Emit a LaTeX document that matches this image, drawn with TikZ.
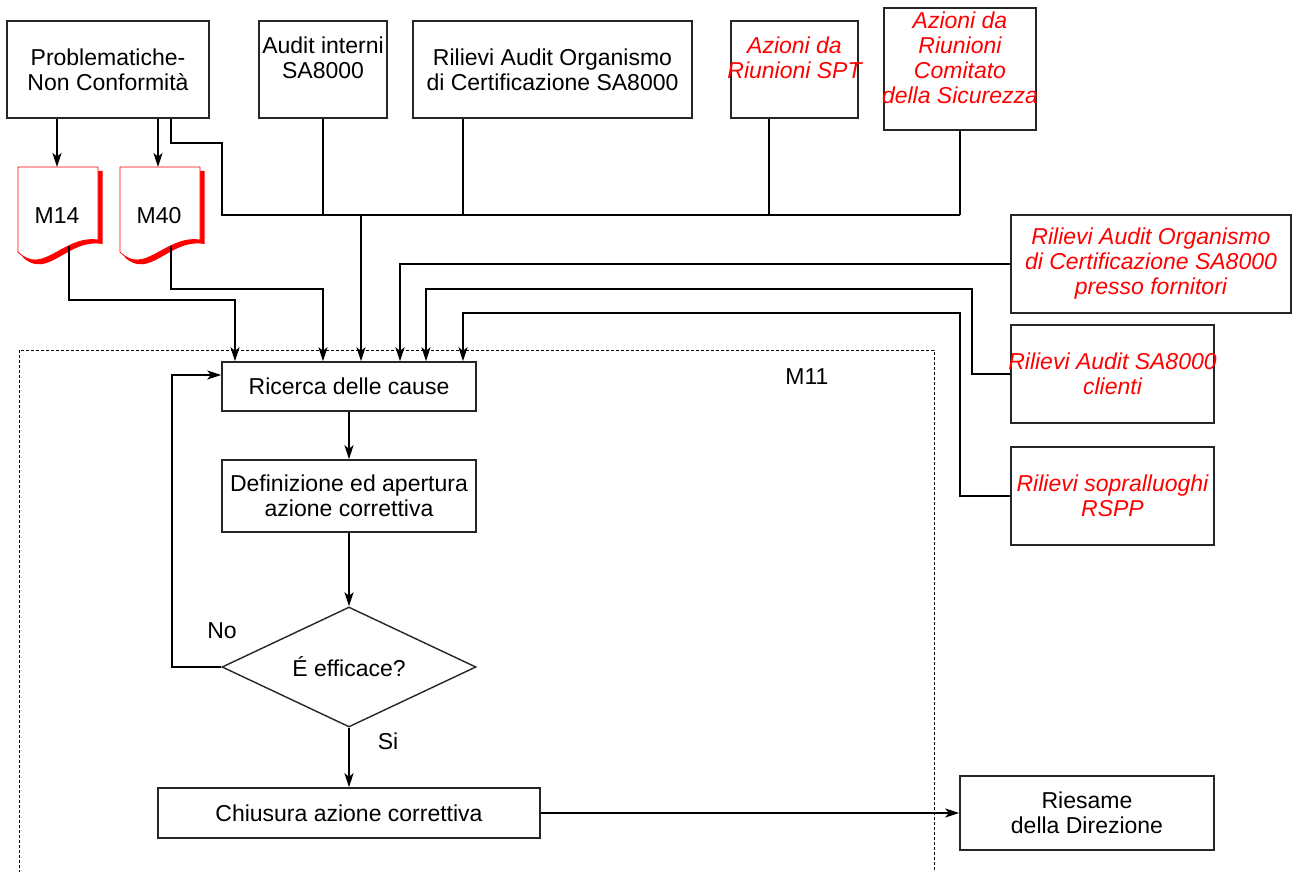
\documentclass[tikz,border=0pt]{standalone}
\usepackage{fontspec}
\setmainfont{Liberation Sans}
\usetikzlibrary{arrows.meta,shapes.geometric}
\definecolor{rd}{RGB}{255,0,0}
\begin{document}
\begin{tikzpicture}[x=1pt,y=-1pt,
  font=\fontsize{23}{25}\selectfont,
  ln/.style={line width=1.4pt,black},
  arr/.style={ln,-{Stealth[length=14pt,width=9pt,inset=3.5pt]}},
  box/.style={draw=black!85,line width=1.5pt,fill=white,inner sep=0pt,rectangle},
  txt/.style={align=center,inner sep=0pt},
  rtxt/.style={txt,text=rd,font=\fontsize{23}{25}\selectfont\itshape},
  docshadow/.style={fill=rd,draw=none},
  docmain/.style={fill=white,draw=rd,line width=0.8pt},
]
\useasboundingbox (0,0) rectangle (1299,872);
\clip (0,0) rectangle (1299,872);

% dashed M11 frame
\draw[dashed,line width=0.9pt,dash pattern=on 3pt off 2pt] (19,350) rectangle (934,900);
\node[txt] (m11) at (807,377) {M11};

% top boxes
\node[box,minimum width=202pt,minimum height=97pt,label={[txt]center:{Problematiche-\\Non Conformità}}] (prob) at (108,69.5) {};
\node[box,minimum width=128pt,minimum height=97pt,label={[txt,yshift=-4pt]center:{Audit interni\\SA8000\\\strut}}] (aud) at (323,69.5) {};
\node[box,minimum width=279pt,minimum height=97pt,label={[txt]center:{Rilievi Audit Organismo\\di Certificazione SA8000}}] (ril) at (552.5,69.5) {};
\node[box,minimum width=127pt,minimum height=97pt,label={[rtxt,yshift=-4pt]center:{Azioni da\\Riunioni SPT\\\strut}}] (spt) at (794.5,69.5) {};
\node[box,minimum width=152pt,minimum height=122pt,label={[rtxt,yshift=-5pt]center:{Azioni da\\Riunioni\\Comitato\\della Sicurezza\\\strut}}] (cmt) at (960,69) {};

% right boxes
\node[box,minimum width=280pt,minimum height=98pt,label={[rtxt]center:{Rilievi Audit Organismo\\di Certificazione SA8000\\presso fornitori}}] (fornit) at (1151,264) {};
\node[box,minimum width=203pt,minimum height=98pt,label={[rtxt]center:{Rilievi Audit SA8000\\clienti}}] (clienti) at (1112.5,374) {};
\node[box,minimum width=203pt,minimum height=98pt,label={[rtxt]center:{Rilievi sopralluoghi\\RSPP}}] (rspp) at (1112.5,496) {};

% flow boxes
\node[box,minimum width=254pt,minimum height=49pt,label={[txt]center:{Ricerca delle cause}}] (ric) at (349,386.5) {};
\node[box,minimum width=254pt,minimum height=72pt,label={[txt]center:{Definizione ed apertura\\azione correttiva}}] (def) at (349,496) {};
\node[diamond,draw=black!85,line width=1.4pt,fill=white,inner sep=0pt,aspect=2.117,minimum width=254pt,minimum height=120pt] (dia) at (349,667) {É efficace?};
\node[box,minimum width=382pt,minimum height=50pt,label={[txt]center:{Chiusura azione correttiva}}] (chi) at (349,813) {};
\node[box,minimum width=254pt,minimum height=74pt,label={[txt]center:{Riesame\\della Direzione}}] (ries) at (1087,813) {};

% document shapes M14, M40
\foreach \xo in {18,120}{
  \begin{scope}[shift={(\xo,0)}]
    \path[docshadow] (4.5,171) -- (84.5,171) -- (84.5,244) .. controls (49,238) and (30,281) .. (4.5,257) -- cycle;
    \path[docmain] (0,167) -- (80,167) -- (80,240) .. controls (45,235) and (25,277) .. (0,252) -- cycle;
  \end{scope}
}
\node[txt] (m14) at (57,216) {M14};
\node[txt] (m40) at (159,216) {M40};
\coordinate (m14top) at (57,167);
\coordinate (m40top) at (158,167);
\coordinate (m14out) at (69,246);
\coordinate (m40out) at (171,246);

% arrows to documents
\draw[arr] (prob.south -| m14top) -- (m14top);
\draw[arr] (prob.south -| m40top) -- (m40top);

% top collector
\coordinate (hub) at (361,215);
\coordinate (j1) at (222,143);
\draw[ln] (prob.south -| m40out) |- (j1) |- (cmt.south |- hub);
\draw[ln] (aud.south) -- (aud.south |- hub);
\draw[ln] ([xshift=-89.5pt]ril.south) -- ([xshift=-89.5pt]ril.south |- hub);
\draw[ln] ([xshift=-25.5pt]spt.south) -- ([xshift=-25.5pt]spt.south |- hub);
\draw[ln] (cmt.south) -- (cmt.south |- hub);
\draw[arr] (hub) -- (hub |- ric.north);

% documents to Ricerca
\coordinate (r1) at (235,300);
\coordinate (r2) at (323,289);
\draw[arr] (m14out) |- (r1) -- (r1 |- ric.north);
\draw[arr] (m40out) |- (r2) -- (r2 |- ric.north);

% right boxes to Ricerca
\coordinate (bB) at (972,289);
\coordinate (bC) at (960,313);
\draw[arr] (fornit.west) -| ([xshift=51pt]ric.north);
\draw[arr] (clienti.west) -| (bB) -| ([xshift=77pt]ric.north);
\draw[arr] (rspp.west) -| (bC) -| ([xshift=114pt]ric.north);

% main flow
\draw[arr] (ric) -- (def);
\draw[arr] (def) -- (dia);
\draw[arr] (dia) -- (chi);
\draw[arr] (chi) -- (ries);
\coordinate (lp) at (172,375);
\draw[arr] (dia.west) -| (lp) -- (lp -| ric.west);
\node[txt] (no) at (222,631) {No};
\node[txt] (si) at (388,741) {Si};
\end{tikzpicture}
\end{document}
